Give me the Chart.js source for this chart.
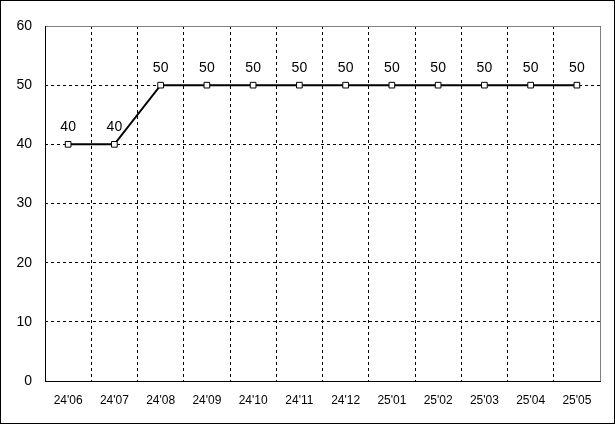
<!DOCTYPE html>
<html>
<head>
<meta charset="utf-8">
<script src="https://cdn.jsdelivr.net/npm/chart.js@4/dist/chart.umd.min.js"></script>
<style>
    html, body { margin: 0; padding: 0; background: #fff; }
    #wrap { width: 615px; height: 424px; position: relative; }
</style>
</head>
<body>
<div id="wrap"><canvas id="chart" width="615" height="424"></canvas></div>
<script>
// chart data
const months = ["24'06", "24'07", "24'08", "24'09", "24'10", "24'11", "24'12", "25'01", "25'02", "25'03", "25'04", "25'05"];
const values = [40, 40, 50, 50, 50, 50, 50, 50, 50, 50, 50, 50];
const yTicks = [0, 10, 20, 30, 40, 50, 60];

const FONT = '"Liberation Sans", Arial, sans-serif';

// value labels above each point
const valueLabels = {
    id: 'valueLabels',
    afterDatasetsDraw(chart) {
        const ctx = chart.ctx;
        const meta = chart.getDatasetMeta(0);
        ctx.save();
        ctx.font = '14px ' + FONT;
        ctx.fillStyle = '#000';
        ctx.textAlign = 'center';
        ctx.textBaseline = 'middle';
        meta.data.forEach((pt, i) => {
            ctx.fillText(String(values[i]), pt.x, pt.y - 17);
        });
        ctx.restore();
    }
};

// plot frame (gray top/right, black left/bottom) and outer border
const frame = {
    id: 'frame',
    afterDraw(chart) {
        const { ctx, chartArea: a } = chart;
        ctx.save();
        ctx.lineWidth = 1;
        ctx.strokeStyle = '#808080';
        ctx.beginPath();
        ctx.moveTo(a.left, a.top + 0.5);
        ctx.lineTo(a.right + 0.5, a.top + 0.5);
        ctx.lineTo(a.right + 0.5, a.bottom);
        ctx.stroke();
        ctx.strokeStyle = '#000';
        ctx.beginPath();
        ctx.moveTo(a.left + 0.5, a.top);
        ctx.lineTo(a.left + 0.5, a.bottom + 0.5);
        ctx.lineTo(a.right + 1, a.bottom + 0.5);
        ctx.stroke();
        ctx.strokeRect(0.5, 0.5, chart.width - 1, chart.height - 1);
        ctx.restore();
    }
};

new Chart(document.getElementById('chart').getContext('2d'), {
    type: 'line',
    data: {
        labels: months,
        datasets: [{
            data: values,
            borderColor: '#000',
            borderWidth: 2,
            tension: 0,
            pointStyle: 'rect',
            pointRadius: 4,
            pointBorderWidth: 1,
            pointBorderColor: '#000',
            pointBackgroundColor: '#fff'
        }]
    },
    options: {
        responsive: false,
        animation: false,
        layout: { padding: { top: 26, right: 15, left: 0, bottom: 0 } },
        plugins: { legend: { display: false }, tooltip: { enabled: false } },
        scales: {
            x: {
                offset: true,
                grid: { color: '#000', drawTicks: false, offset: true },
                border: { display: false, dash: [3, 3] },
                ticks: { color: '#000', font: { family: FONT, size: 12 }, padding: 12, maxRotation: 0, autoSkip: false },
                afterFit(s) { s.height = 43; }
            },
            y: {
                min: 0,
                max: 60,
                afterBuildTicks(s) { s.ticks = yTicks.map(v => ({ value: v })); },
                grid: { color: '#000', drawTicks: false },
                border: { display: false, dash: [3, 3] },
                ticks: { color: '#000', font: { family: FONT, size: 14 }, padding: 13 },
                afterFit(s) { s.width = 45; }
            }
        }
    },
    plugins: [valueLabels, frame]
});
</script>
</body>
</html>
